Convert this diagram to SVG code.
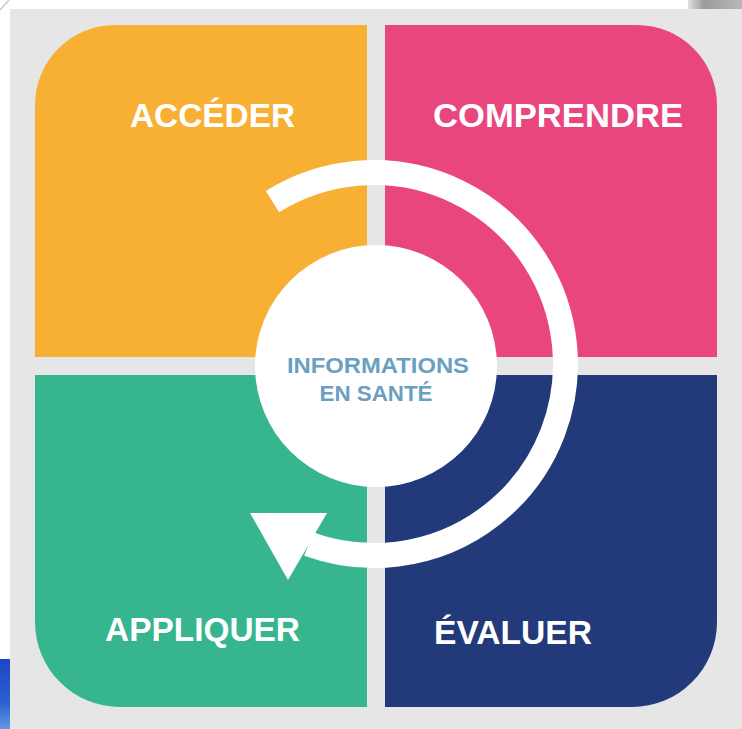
<svg xmlns="http://www.w3.org/2000/svg" width="742" height="729" viewBox="0 0 742 729">
  <defs>
    <style>
      .lbl { font-family: "Liberation Sans", Arial, sans-serif; font-weight: bold; fill: #ffffff; font-size: 33px; }
      .ctr { font-family: "Liberation Sans", Arial, sans-serif; font-weight: bold; fill: #6b9fc1; font-size: 22px; text-anchor: middle; }
      .ring { fill: none; stroke: #ffffff; stroke-width: 25; stroke-linecap: butt; }
    </style>
    <linearGradient id="blueArt" x1="0" y1="0" x2="0" y2="1">
      <stop offset="0" stop-color="#1d47c4"/>
      <stop offset="0.6" stop-color="#2a5fd0"/>
      <stop offset="1" stop-color="#5f9ae0"/>
    </linearGradient>
    <linearGradient id="grayArt" x1="0" y1="0" x2="1" y2="0">
      <stop offset="0" stop-color="#e0e0e0"/>
      <stop offset="0.3" stop-color="#9a9a9a"/>
      <stop offset="1" stop-color="#b8b8b8"/>
    </linearGradient>
  </defs>

  <!-- page -->
  <rect x="0" y="0" width="742" height="729" fill="#ffffff"/>
  <rect x="10" y="9" width="732" height="720" fill="#e6e6e6"/>
  <rect x="688" y="0" width="54" height="9" fill="url(#grayArt)"/>
  <line x1="0" y1="10" x2="9" y2="0" stroke="#c8c8c8" stroke-width="1.5"/>
  <rect x="0" y="659" width="10" height="70" fill="url(#blueArt)"/>

  <g id="acceder">
    <path d="M35,105 A80,80 0 0 1 115,25 L367,25 L367,357 L35,357 Z" fill="#f8b034"/>
    <text class="lbl" x="130" y="127" textLength="165" lengthAdjust="spacingAndGlyphs">ACCÉDER</text>
  </g>

  <g id="comprendre">
    <path d="M385,25 L637,25 A80,80 0 0 1 717,105 L717,357 L385,357 Z" fill="#e94680"/>
    <text class="lbl" x="433" y="127" textLength="250" lengthAdjust="spacingAndGlyphs">COMPRENDRE</text>
  </g>

  <g id="appliquer">
    <path d="M35,375 L367,375 L367,707 L120,707 A85,85 0 0 1 35,622 Z" fill="#37b58f"/>
    <text class="lbl" x="105" y="641" textLength="195" lengthAdjust="spacingAndGlyphs">APPLIQUER</text>
  </g>

  <g id="evaluer">
    <path d="M385,375 L717,375 L717,622 A85,85 0 0 1 632,707 L385,707 Z" fill="#223a79"/>
    <text class="lbl" x="434" y="644" textLength="158" lengthAdjust="spacingAndGlyphs">ÉVALUER</text>
  </g>

  <g id="connectors">
    <path class="ring" d="M272.5,201.6 A191.5,191.5 0 1 1 308.5,544"/>
    <polygon points="250,513 327,513 288,580" fill="#ffffff"/>
  </g>

  <g id="informations">
    <circle cx="376" cy="366" r="121" fill="#ffffff"/>
    <text class="ctr" x="378" y="373" textLength="182" lengthAdjust="spacingAndGlyphs">INFORMATIONS</text>
    <text class="ctr" x="376" y="401" textLength="113" lengthAdjust="spacingAndGlyphs">EN SANTÉ</text>
  </g>
</svg>
